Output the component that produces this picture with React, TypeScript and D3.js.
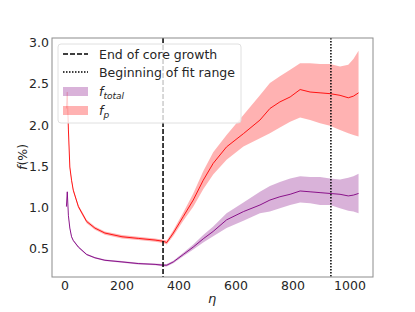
import React from 'react';
import * as d3 from 'd3';

// eta grid and the two curves with their bands
const eta = [5, 8, 12, 17, 23, 29, 47, 76, 105, 140, 200, 257, 316, 345, 357, 380, 415, 450, 485, 520, 567, 626, 684, 719, 754, 790, 825, 860, 895, 930, 965, 994, 1012, 1030];

const fpMean = [2.2, 2.4, 1.94, 1.49, 1.33, 1.21, 1.01, 0.83, 0.75, 0.69, 0.645, 0.625, 0.605, 0.59, 0.575, 0.69, 0.89, 1.09, 1.33, 1.535, 1.735, 1.895, 2.06, 2.2, 2.28, 2.34, 2.43, 2.4, 2.39, 2.38, 2.36, 2.33, 2.35, 2.39];
const fpLow = [2.2, 2.37, 1.92, 1.47, 1.31, 1.19, 0.99, 0.81, 0.73, 0.67, 0.625, 0.605, 0.585, 0.57, 0.55, 0.655, 0.84, 1.01, 1.22, 1.4, 1.58, 1.74, 1.84, 1.9, 1.97, 2.04, 2.09, 2.06, 2.02, 1.99, 1.94, 1.9, 1.88, 1.86];
const fpHigh = [2.2, 2.43, 1.96, 1.51, 1.35, 1.23, 1.03, 0.85, 0.77, 0.71, 0.665, 0.645, 0.625, 0.61, 0.6, 0.725, 0.94, 1.17, 1.44, 1.67, 1.88, 2.12, 2.36, 2.51, 2.59, 2.67, 2.75, 2.75, 2.74, 2.74, 2.71, 2.73, 2.8, 2.9];

const ftMean = [1.01, 1.19, 0.9, 0.75, 0.645, 0.6, 0.52, 0.43, 0.39, 0.36, 0.34, 0.32, 0.31, 0.3, 0.3, 0.34, 0.43, 0.52, 0.62, 0.71, 0.85, 0.95, 1.03, 1.09, 1.13, 1.16, 1.2, 1.19, 1.18, 1.17, 1.16, 1.14, 1.15, 1.17];
const ftLow = [1.01, 1.18, 0.89, 0.74, 0.635, 0.59, 0.51, 0.42, 0.38, 0.35, 0.33, 0.31, 0.3, 0.285, 0.285, 0.325, 0.41, 0.49, 0.575, 0.65, 0.75, 0.84, 0.93, 0.95, 0.99, 1.03, 1.06, 1.05, 1.03, 1.03, 0.99, 0.96, 0.95, 0.93];
const ftHigh = [1.01, 1.2, 0.91, 0.76, 0.655, 0.61, 0.53, 0.44, 0.4, 0.37, 0.35, 0.33, 0.32, 0.315, 0.315, 0.355, 0.45, 0.55, 0.665, 0.77, 0.93, 1.06, 1.19, 1.26, 1.31, 1.35, 1.38, 1.37, 1.37, 1.35, 1.34, 1.36, 1.38, 1.41];

const coreEnd = 344;
const fitStart = 933;

const xTicks = [0, 200, 400, 600, 800, 1000];
const yTicks = [0.5, 1.0, 1.5, 2.0, 2.5, 3.0];

const W = 415, H = 312;
const L = 52, R = 373, T = 38, B = 277;

export default function App() {
  const x = d3.scaleLinear().domain([-45.6, 1080.7]).range([L, R]);
  const y = d3.scaleLinear().domain([0.157, 3.055]).range([B, T]);

  const idx = d3.range(eta.length);
  const line = (vals: number[]) =>
    d3.line<number>().x((i) => x(eta[i])).y((i) => y(vals[i]))(idx) || '';
  const area = (lo: number[], hi: number[]) =>
    d3.area<number>()
      .x((i) => x(eta[i]))
      .y0((i) => y(lo[i]))
      .y1((i) => y(hi[i]))(idx) || '';

  const font = 'DejaVu Sans, sans-serif';
  const txt = '#262626';
  const fs = 12.5;

  return (
    <svg width={W} height={H} style={{ position: 'absolute', left: 0, top: 0 }} fontFamily={font}>
      <rect width={W} height={H} fill="white" />
      <path d={area(ftLow, ftHigh)} fill="purple" fillOpacity={0.3} />
      <path d={line(ftMean)} fill="none" stroke="purple" strokeWidth={0.9} />
      <path d={area(fpLow, fpHigh)} fill="red" fillOpacity={0.3} />
      <path d={line(fpMean)} fill="none" stroke="red" strokeWidth={0.9} />

      <line x1={x(coreEnd)} x2={x(coreEnd)} y1={T} y2={B} stroke="black" strokeWidth={1.5} strokeDasharray="5,2" />
      <line x1={x(fitStart)} x2={x(fitStart)} y1={T} y2={B} stroke="black" strokeWidth={1.5} strokeDasharray="1.5,1.5" />

      <rect x={L} y={T} width={R - L} height={B - T} fill="none" stroke="#8c8c8c" strokeWidth={1} />

      {xTicks.map((t) => (
        <text key={t} x={x(t)} y={290} fontSize={fs} textAnchor="middle" fill={txt}>{t}</text>
      ))}
      {yTicks.map((t) => (
        <text key={t} x={49} y={y(t) + 4.5} fontSize={fs} textAnchor="end" fill={txt}>{t.toFixed(1)}</text>
      ))}

      <text transform="translate(27,157) rotate(-90)" fontSize={fs} textAnchor="middle" fill={txt}>
        <tspan fontStyle="italic">f</tspan>(%)
      </text>
      <text x={212} y={303} fontSize={13} fontStyle="italic" textAnchor="middle" fill={txt}>η</text>

      <g>
        <rect x={58} y={44} width={183} height={79} rx={3} fill="white" fillOpacity={0.8} stroke="#e0e0e0" strokeWidth={1} />
        <line x1={63} x2={88} y1={54} y2={54} stroke="black" strokeWidth={1.5} strokeDasharray="5,2" />
        <text x={99} y={58.5} fontSize={fs} fill={txt}>End of core growth</text>
        <line x1={63} x2={88} y1={72} y2={72} stroke="black" strokeWidth={1.5} strokeDasharray="1.5,1.5" />
        <text x={99} y={76.5} fontSize={fs} fill={txt}>Beginning of fit range</text>
        <rect x={63} y={87} width={25} height={9} fill="purple" fillOpacity={0.3} />
        <text x={99} y={96} fontSize={fs} fill={txt} fontStyle="italic">
          f<tspan fontSize={9} dy={3}>total</tspan>
        </text>
        <rect x={63} y={106} width={25} height={9} fill="red" fillOpacity={0.3} />
        <text x={99} y={115} fontSize={fs} fill={txt} fontStyle="italic">
          f<tspan fontSize={9} dy={3}>p</tspan>
        </text>
      </g>
    </svg>
  );
}
